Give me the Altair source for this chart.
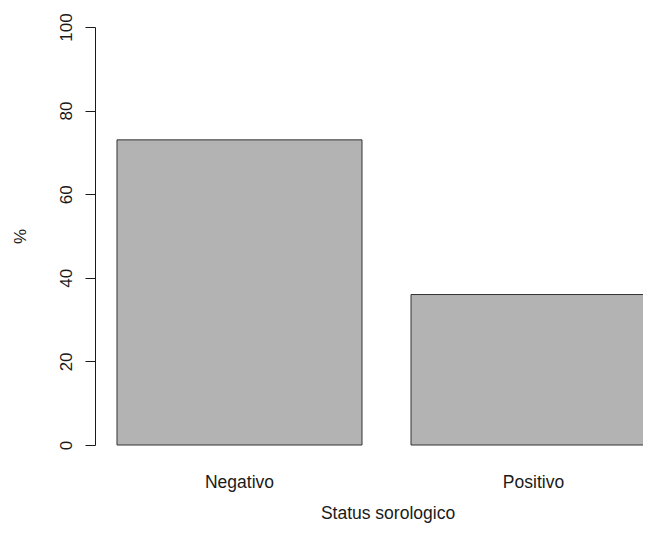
import altair as alt
import pandas as pd

categories = ["Negativo", "Positivo"]
values = [73, 36]

df = pd.DataFrame({"status": categories, "pct": values})

FONT = "Liberation Sans"
INK = "#1a1a1a"

chart = alt.Chart(df).mark_bar(
    color="#B3B3B3", stroke="#333333", strokeWidth=1
).encode(
    x=alt.X(
        "status:N",
        sort=categories,
        scale=alt.Scale(range=[0, 583], paddingInner=0.1667, paddingOuter=0.0748),
        axis=alt.Axis(
            title="Status sorologico",
            labelAngle=0,
            domain=False,
            grid=False,
            ticks=False,
            tickSize=0,
            labelBaseline="alphabetic",
            labelPadding=42,
            labelFontSize=17.5,
            labelFont=FONT,
            labelColor=INK,
            titleFont=FONT,
            titleFontSize=17.5,
            titleFontWeight="normal",
            titleColor=INK,
            titleX=292.5,
            titleY=73,
            titleAlign="center",
            titleBaseline="alphabetic",
            titleAnchor="start",
        ),
    ),
    y=alt.Y(
        "pct:Q",
        scale=alt.Scale(domain=[0, 100], nice=False, zero=True),
        axis=alt.Axis(
            title="%",
            values=[0, 20, 40, 60, 80, 100],
            grid=False,
            domainColor=INK,
            domainWidth=1,
            tickColor=INK,
            tickSize=10,
            tickWidth=1,
            labelAngle=270,
            labelAlign="center",
            labelBaseline="bottom",
            labelPadding=10,
            labelFontSize=17,
            labelFont=FONT,
            labelColor=INK,
            titleFont=FONT,
            titleFontSize=17,
            titleFontWeight="normal",
            titleColor=INK,
            titleAngle=270,
            titleX=-75,
            titleY=209,
            titleAlign="center",
            titleBaseline="middle",
        ),
    ),
).properties(
    width=548,
    height=418,
    background="white",
    autosize=alt.AutoSizeParams(type="none"),
    padding={"left": 87, "top": 19, "right": 0, "bottom": 78},
    view=alt.ViewBackground(stroke=None, strokeWidth=0),
).configure_view(
    stroke=None, strokeWidth=0
)

chart.save("out.html", embed_options={"renderer": "svg", "actions": False})
